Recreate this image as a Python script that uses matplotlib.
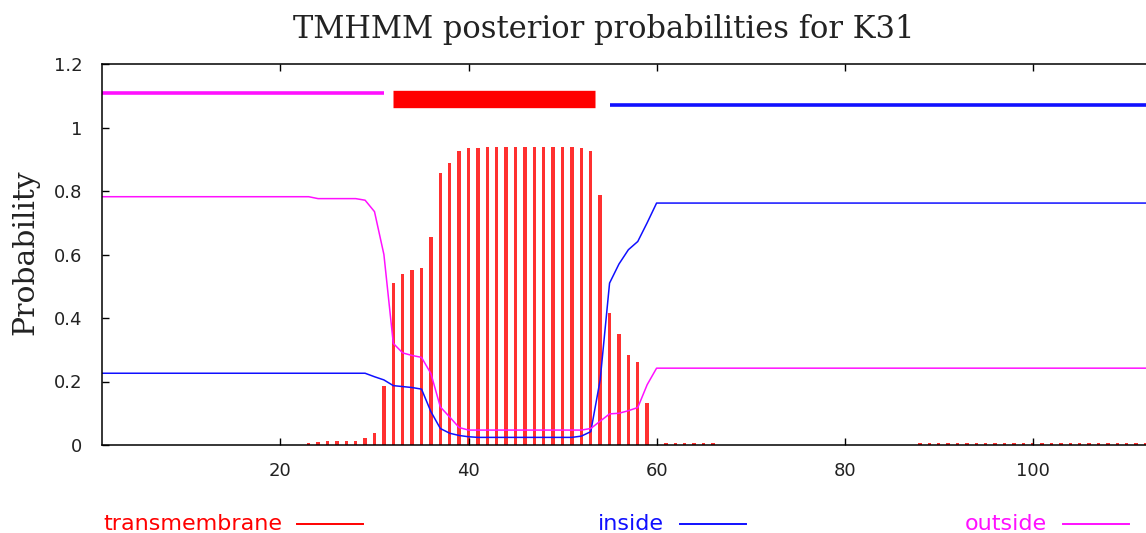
import matplotlib
matplotlib.use("Agg")
import matplotlib.pyplot as plt
from matplotlib.lines import Line2D
import numpy as np

# per-residue posterior probabilities, residues 1..112
residues = np.arange(1, 113)

transmembrane = ([0.0] * 22 +
                 [0.005, 0.010, 0.012, 0.012, 0.013, 0.014, 0.022, 0.038,
                  0.186, 0.510, 0.539, 0.551, 0.557, 0.655, 0.856, 0.888,
                  0.925, 0.935, 0.937] +
                 [0.940] * 10 +
                 [0.937, 0.925, 0.788, 0.415, 0.350, 0.284, 0.260, 0.131, 0.0] +
                 [0.006] * 6 + [0.0] * 21 + [0.006] * 25)

inside = ([0.226] * 29 +
          [0.215, 0.205, 0.187, 0.184, 0.181, 0.176, 0.105, 0.052, 0.037,
           0.030, 0.026] +
          [0.024] * 11 +
          [0.028, 0.042, 0.205, 0.510, 0.570, 0.615, 0.641, 0.700] +
          [0.762] * 53)

outside = ([0.782] * 23 + [0.776] * 5 +
           [0.771, 0.735, 0.600, 0.320, 0.290, 0.282, 0.276, 0.225, 0.120,
            0.088, 0.055] +
           [0.047] * 13 +
           [0.052, 0.075, 0.098, 0.100, 0.108, 0.118, 0.190] +
           [0.242] * 53)

# predicted topology segments (start, end)
outside_seg = (1, 31)
tmhelix_seg = (32, 53.5)
inside_seg = (55, 112)

fig = plt.figure(figsize=(11.46, 5.33), dpi=100)
ax = fig.add_axes([102 / 1146, 88 / 533, 1 - 102 / 1146, 381 / 533])

ax.bar(residues, transmembrane, width=0.36, color="#ff3030", linewidth=0)
ax.plot(residues, inside, color="#1010ff", lw=1.1)
ax.plot(residues, outside, color="#ff10ff", lw=1.1)

ax.plot(outside_seg, [1.11, 1.11], color="#ff10ff", lw=2.6, solid_capstyle="butt")
ax.plot(tmhelix_seg, [1.09, 1.09], color="#ff0000", lw=12.5, solid_capstyle="butt")
ax.plot(inside_seg, [1.07, 1.07], color="#1010ff", lw=2.6, solid_capstyle="butt")

ax.set_xlim(1.02, 112.05)
ax.set_ylim(0, 1.2)
ax.set_xticks([20, 40, 60, 80, 100])
ax.set_yticks([0, 0.2, 0.4, 0.6, 0.8, 1, 1.2])
ax.set_yticklabels(["0", "0.2", "0.4", "0.6", "0.8", "1", "1.2"])
ax.tick_params(direction="in", length=5, width=1, labelsize=13,
               top=True, labelcolor="#222222")
ax.tick_params(axis="x", pad=12)
ax.tick_params(axis="y", pad=14)
ax.spines["right"].set_visible(False)
for s in ["left", "bottom", "top"]:
    ax.spines[s].set_linewidth(1.1)

fig.text(0.527, 0.944, "TMHMM posterior probabilities for K31",
         family="DejaVu Serif", fontsize=22, ha="center", va="center",
         color="#222222")
fig.text(0.022, 0.527, "Probability", family="DejaVu Serif", fontsize=21.5,
         rotation=90, ha="center", va="center", color="#222222")

# legend along the bottom edge
legend_items = [("transmembrane", "#ff0000", 103, 297),
                ("inside", "#1010ff", 598, 680),
                ("outside", "#ff10ff", 965, 1063)]
for label, col, tx, lx in legend_items:
    fig.text(tx / 1146, 0.016, label, color=col, fontsize=16,
             ha="left", va="center")
    fig.add_artist(Line2D([lx / 1146, (lx + 66) / 1146], [0.016, 0.016],
                          color=col, lw=1.4, transform=fig.transFigure))

fig.savefig("out.png", dpi=100)
